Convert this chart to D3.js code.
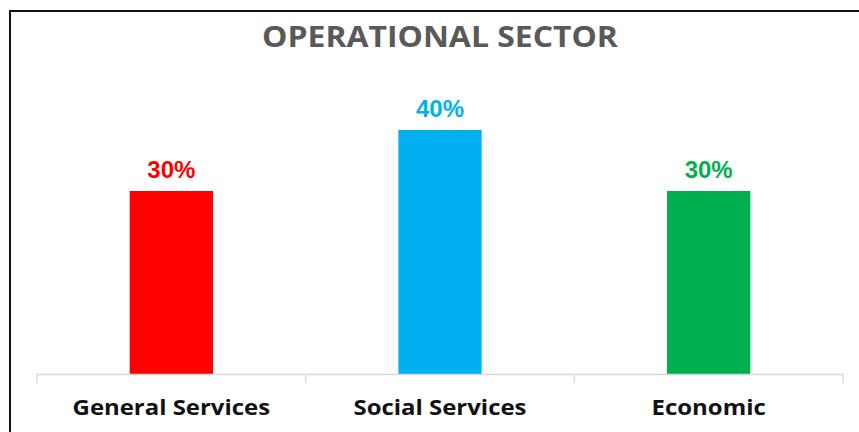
<!DOCTYPE html>
<html>
<head>
<meta charset="utf-8">
<script src="https://cdn.jsdelivr.net/npm/d3@7"></script>
<style>
  html, body { margin: 0; padding: 0; background: #fff; }
  svg { display: block; }
</style>
</head>
<body>
<svg id="chart" width="859" height="432"></svg>
<script>
// Operational sector shares
const categories = ["General Services", "Social Services", "Economic"];
const values = [30, 40, 30];
const colors = ["#FF0000", "#00B0F0", "#00B050"];
const title = "OPERATIONAL SECTOR";

const svg = d3.select("#chart");
const W = 859, H = 432;
const stretch = 1.14; // wide lettering for title and category names

// Frame: heavy line along top and left edges
svg.append("path")
  .attr("d", `M10,${H} L10,11 L${W},11`)
  .attr("fill", "none")
  .attr("stroke", "#111")
  .attr("stroke-width", 2);

const plot = { left: 37, right: 843, top: 99.5, bottom: 374 };

const x = d3.scaleBand()
  .domain(categories)
  .range([plot.left, plot.right])
  .paddingInner(0.69)
  .paddingOuter(0.345);

const y = d3.scaleLinear()
  .domain([0, 45])
  .range([plot.bottom, plot.top]);

// Title
svg.append("text")
  .attr("transform", `translate(440,47) scale(${stretch},1)`)
  .attr("text-anchor", "middle")
  .attr("font-family", "'Open Sans', sans-serif")
  .attr("font-weight", "bold")
  .attr("font-size", 28)
  .attr("fill", "#595959")
  .text(title);

// Bars
svg.append("g").selectAll("rect")
  .data(categories)
  .join("rect")
  .attr("x", d => x(d))
  .attr("y", (d, i) => y(values[i]))
  .attr("width", x.bandwidth())
  .attr("height", (d, i) => y(0) - y(values[i]))
  .attr("fill", (d, i) => colors[i]);

// Value labels
svg.append("g").selectAll("text")
  .data(categories)
  .join("text")
  .attr("x", d => x(d) + x.bandwidth() / 2)
  .attr("y", (d, i) => y(values[i]) - 13)
  .attr("text-anchor", "middle")
  .attr("font-family", "'Liberation Sans', Arial, sans-serif")
  .attr("font-weight", "bold")
  .attr("font-size", 24)
  .attr("fill", (d, i) => colors[i])
  .text((d, i) => values[i] + "%");

// Category axis with dividing ticks between groups
const axisG = svg.append("g")
  .attr("transform", `translate(0,${plot.bottom})`);

axisG.append("line")
  .attr("x1", plot.left).attr("x2", plot.right)
  .attr("y1", 0.5).attr("y2", 0.5)
  .attr("stroke", "#D9D9D9")
  .attr("stroke-width", 1.5);

const step = x.step();
const tickXs = d3.range(categories.length + 1).map(i => plot.left + i * step);
axisG.selectAll("line.tick")
  .data(tickXs)
  .join("line")
  .attr("class", "tick")
  .attr("x1", d => d).attr("x2", d => d)
  .attr("y1", 0).attr("y2", 9)
  .attr("stroke", "#D9D9D9")
  .attr("stroke-width", 1.5);

axisG.selectAll("text")
  .data(categories)
  .join("text")
  .attr("transform", d => `translate(${x(d) + x.bandwidth() / 2},41) scale(${stretch},1)`)
  .attr("text-anchor", "middle")
  .attr("font-family", "'Open Sans', sans-serif")
  .attr("font-weight", "bold")
  .attr("font-size", 21)
  .attr("fill", "#111")
  .text(d => d);
</script>
</body>
</html>
